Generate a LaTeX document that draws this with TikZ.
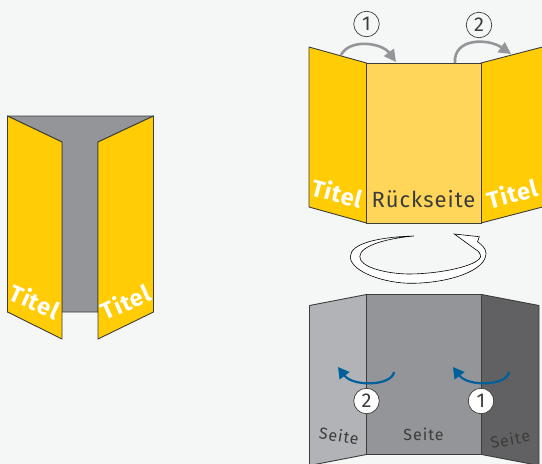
\documentclass[tikz,border=0pt]{standalone}
\usepackage{fontspec}
\setmainfont{Fira Sans}
\newfontfamily\titelfont[LetterSpace=3.5]{Fira Sans}
\newfontfamily\rueckfont[LetterSpace=4.5]{Fira Sans}
\newfontfamily\seitefont[LetterSpace=6]{Fira Sans}
\usetikzlibrary{arrows.meta}
\definecolor{bgc}{HTML}{F5F7F6}
\definecolor{yel}{HTML}{FFCC05}
\definecolor{lyel}{HTML}{FFD55A}
\definecolor{gmid}{HTML}{939598}
\definecolor{glight}{HTML}{B1B3B6}
\definecolor{gdark}{HTML}{616163}
\definecolor{edgec}{HTML}{3C3C3B}
\definecolor{arrg}{HTML}{939598}
\definecolor{arrb}{HTML}{00609C}
\tikzset{
  panel/.style={draw=edgec,line width=0.9pt,line join=round},
  titel/.style={text=white,font=\titelfont\bfseries\fontsize{23.5}{23.5}\selectfont,inner sep=0pt},
  rueck/.style={text=edgec,font=\rueckfont\fontsize{22}{22}\selectfont,inner sep=0pt},
  seite/.style={text=edgec,font=\seitefont\fontsize{16}{16}\selectfont,inner sep=0pt},
  num/.style={circle,draw=edgec,fill=bgc,line width=0.7pt,minimum size=25.5pt,inner sep=0pt,text=edgec,font=\fontsize{20}{20}\selectfont},
  numw/.style={num,fill=white},
  garrow/.style={draw=arrg,line width=2.6pt,-{Triangle[length=12pt,width=12pt]}},
  barrow/.style={draw=arrb,line width=2.2pt,-{Triangle[length=11pt,width=12pt]}}
}
\begin{document}
\begin{tikzpicture}[x=1pt,y=-1pt]
\useasboundingbox[fill=bgc] (0,0) rectangle (542,464);
% left folded
\draw[panel,fill=gmid] (7.5,116) -- (153.5,116) -- (98,142) -- (98,312) -- (62,312) -- (62,142) -- cycle;
\draw[panel,fill=yel] (7.5,116) -- (62,142) -- (62,339) -- (7.5,312) -- cycle;
\draw[panel,fill=yel] (153.5,116) -- (98,142) -- (98,339) -- (153.5,312) -- cycle;
\node[titel,rotate=-24] (t1) at (35,301) {Titel};
\node[titel,rotate=24] (t2) at (125.5,302) {Titel};
% top open
\draw[panel,fill=yel] (309,47) -- (366.5,63) -- (366.5,223) -- (309,207) -- cycle;
\draw[panel,fill=yel] (542.5,47) -- (481,63) -- (481,223) -- (542.5,207) -- cycle;
\draw[panel,fill=lyel] (366.5,63) rectangle (481,223);
\node[titel,rotate=-15] (t3) at (337,193) {Titel};
\node[titel,rotate=15] (t4) at (512,193.5) {Titel};
\node[rueck] (r) at (423.5,199) {Rückseite};
\coordinate (a1s) at (341,55);
\coordinate (a1e) at (396,62);
\coordinate (a2s) at (455,63);
\coordinate (a2e) at (511,54);
\draw[garrow] (a1s) .. controls (350,38) and (382,43) .. (a1e);
\draw[garrow] (a2s) .. controls (453,38) and (488,38) .. (a2e);
\node[num] (n1) at (366.5,24) {1};
\node[num] (n2) at (479,25) {2};
% rotation arrow
\draw[draw=black,fill=white,line width=0.6pt,line join=miter]
  (414,236) .. controls (380,237) and (350,243) .. (350.3,257)
  .. controls (351,272) and (385,283.5) .. (412,283.3)
  .. controls (448,283) and (486.5,271) .. (486,253)
  .. controls (485.5,248) and (482,245) .. (477.5,241.7)
  -- (479.3,236.7) -- (454.3,234) -- (475,249)
  .. controls (478.5,251) and (481,254) .. (480.5,257)
  .. controls (477,266) and (440,274) .. (408,274)
  .. controls (385,273.5) and (359.5,267) .. (359.8,256.5)
  .. controls (360,245) and (390,238) .. (414,236) -- cycle;
% bottom
\draw[panel,fill=glight] (309.5,305.5) -- (366.5,294.5) -- (366.5,454.5) -- (309.5,465.5) -- cycle;
\draw[panel,fill=gdark] (539,305.5) -- (481.5,294.5) -- (481.5,454.5) -- (539,465.5) -- cycle;
\draw[panel,fill=gmid] (366.5,294.5) rectangle (481.5,454.5);
\node[seite,rotate=-9] (s1) at (339,436) {Seite};
\node[seite] (s2) at (423.5,434) {Seite};
\node[seite,rotate=11] (s3) at (510,439) {Seite};
\coordinate (b1s) at (394,372);
\coordinate (b1e) at (338,367);
\coordinate (b2s) at (509,372);
\coordinate (b2e) at (453,367);
\draw[barrow] (b1s) .. controls (392,386) and (353,387) .. (b1e);
\draw[barrow] (b2s) .. controls (507,386) and (468,387) .. (b2e);
\node[numw] (n3) at (366.5,401) {2};
\node[numw] (n4) at (481,401) {1};
\end{tikzpicture}
\end{document}
